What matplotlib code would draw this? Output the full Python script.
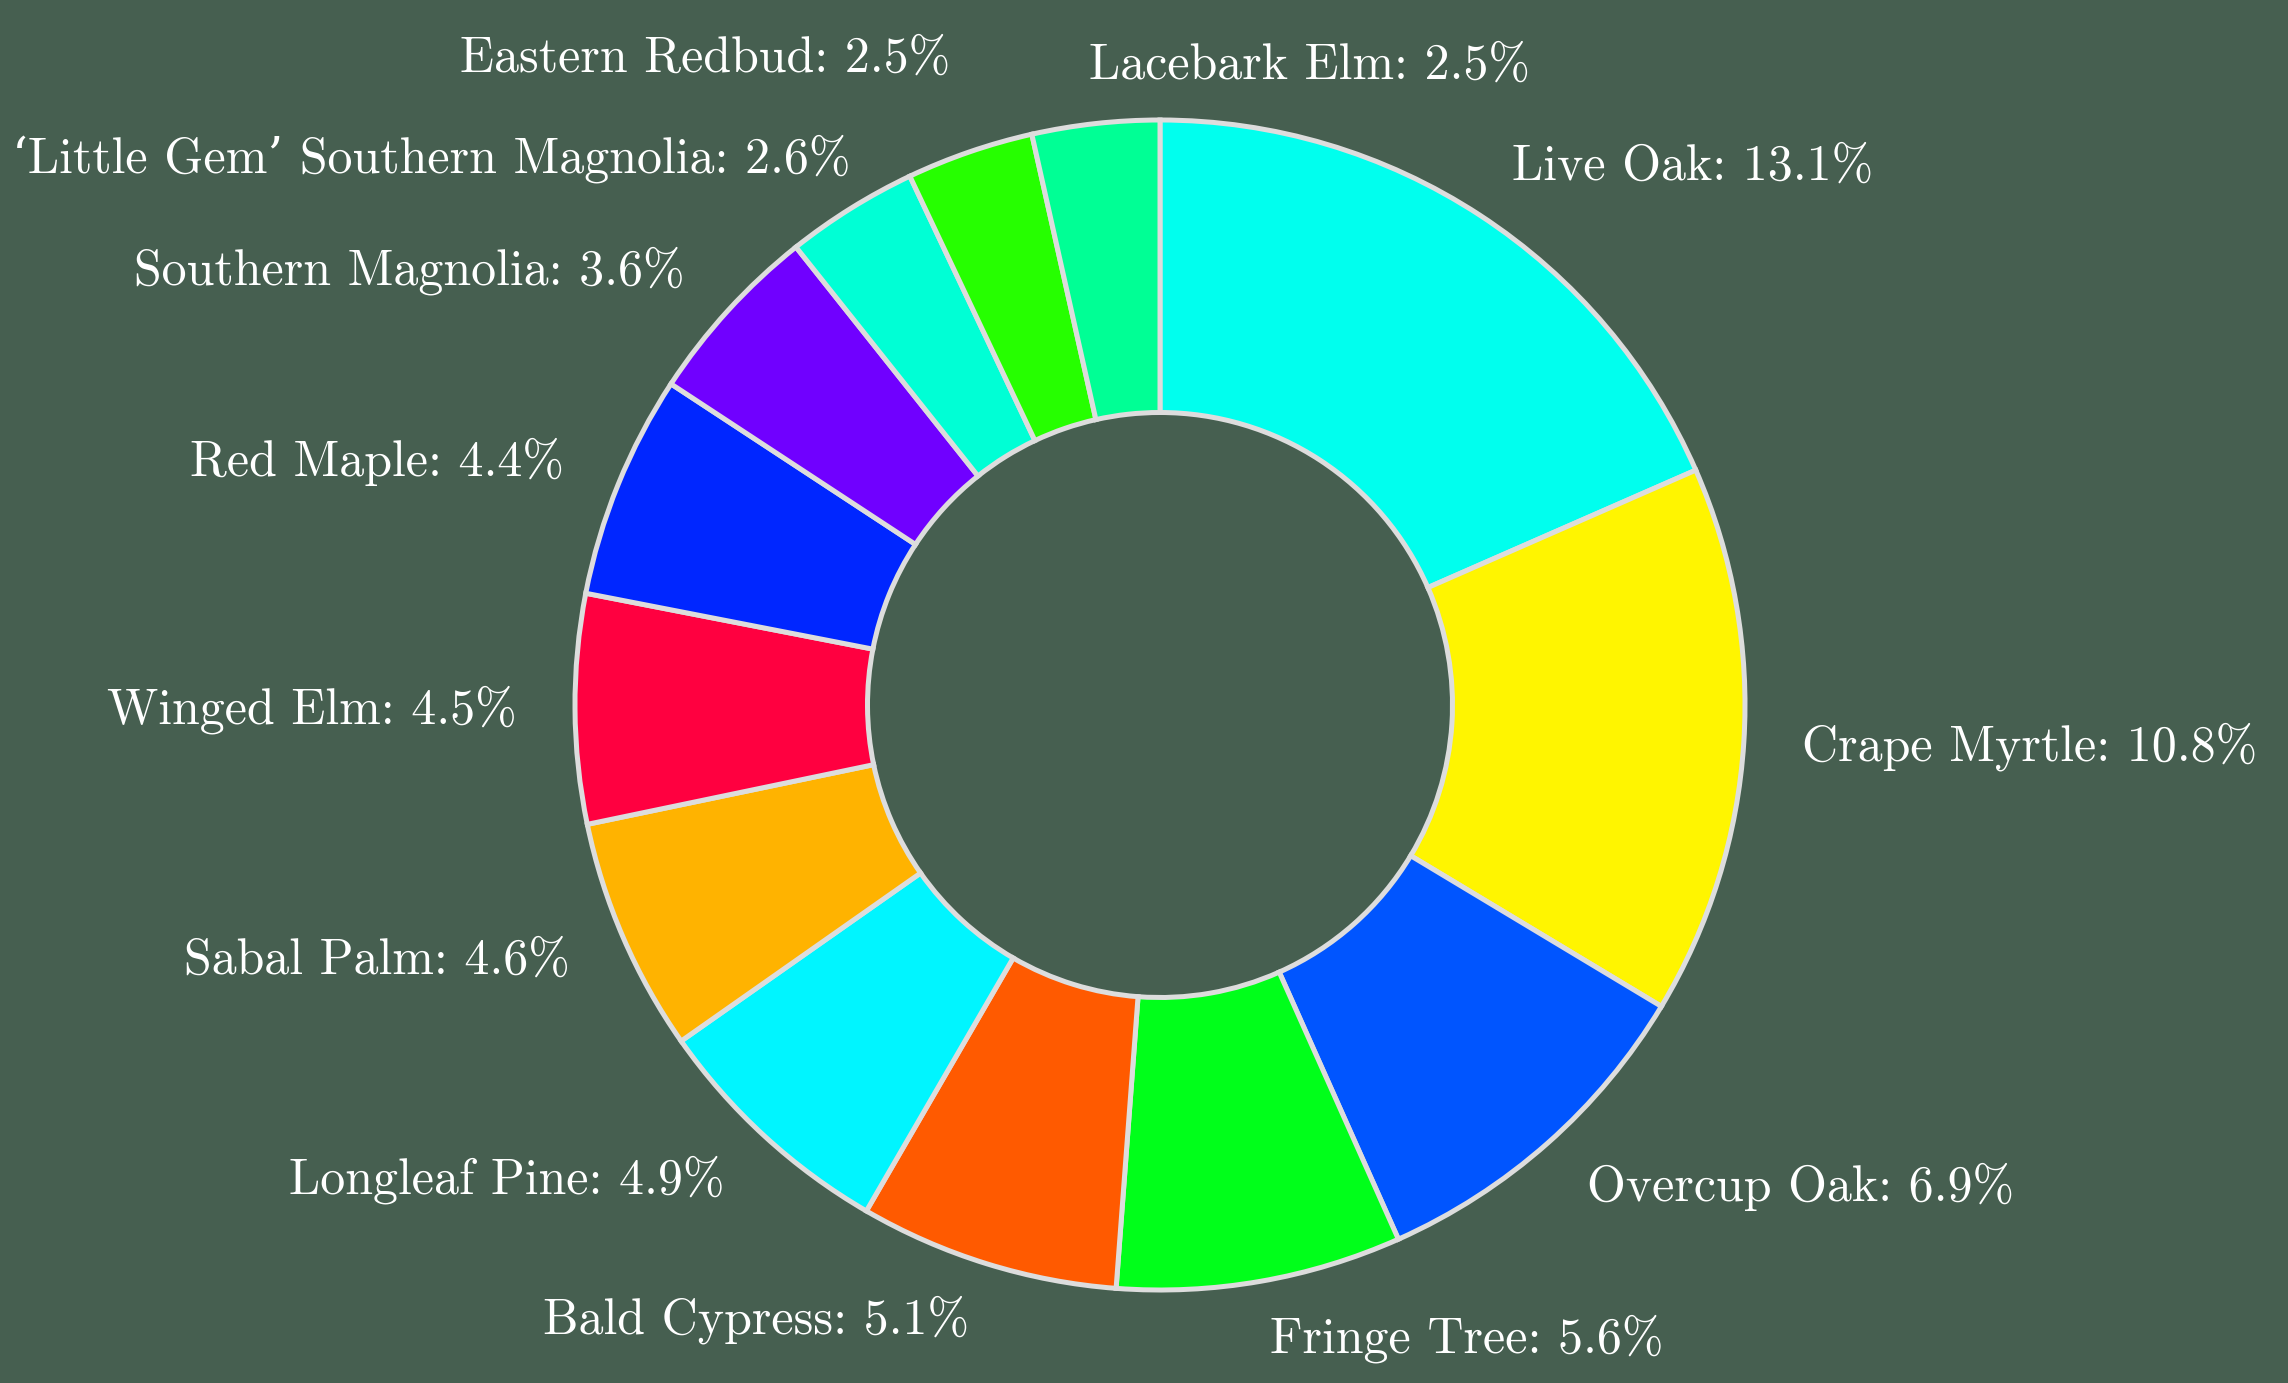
import matplotlib
matplotlib.use("Agg")
import matplotlib.pyplot as plt
import numpy as np

species = [
    "Live Oak", "Crape Myrtle", "Overcup Oak", "Fringe Tree", "Bald Cypress",
    "Longleaf Pine", "Sabal Palm", "Winged Elm", "Red Maple",
    "Southern Magnolia", "\u2018Little Gem\u2019 Southern Magnolia",
    "Eastern Redbud", "Lacebark Elm",
]
shares = [13.1, 10.8, 6.9, 5.6, 5.1, 4.9, 4.6, 4.5, 4.4, 3.6, 2.6, 2.5, 2.5]
colors = [
    "#00FFEE", "#FFF500", "#0055FF", "#00FF1A", "#FF5A00",
    "#00F5FF", "#FFB300", "#FF0040", "#0026FF", "#7000FF",
    "#00FFD5", "#26FF00", "#00FF95",
]

bg = "#465F50"
plt.rcParams["font.family"] = ["cmr10", "DejaVu Serif"]
plt.rcParams["axes.unicode_minus"] = False

fig = plt.figure(figsize=(22.88, 13.83), dpi=100, facecolor=bg)
ax = fig.add_axes([0, 0, 1, 1])
ax.set_facecolor(bg)

labels = [f"{s}: {v}%" for s, v in zip(species, shares)]
wedges, texts = ax.pie(
    shares,
    colors=colors,
    startangle=90,
    counterclock=False,
    labels=labels,
    labeldistance=1.1,
    radius=1.0,
    wedgeprops=dict(width=0.5, edgecolor="#DDDDDD", linewidth=3.6),
    textprops=dict(color="white", fontsize=36),
)

# Labels sitting almost straight above the centre read better anchored on the left
for t in texts:
    x, y = t.get_position()
    if abs(x) < 0.15 and y > 0:
        t.set_ha("left")

# Spread crowded right-anchored labels apart vertically (working bottom-up)
min_gap = 0.17
left = sorted((t for t in texts if t.get_ha() == "right"),
              key=lambda t: t.get_position()[1])
for lower, upper in zip(left[:-1], left[1:]):
    lx, ly = lower.get_position()
    ux, uy = upper.get_position()
    if uy - ly < min_gap:
        upper.set_position((ux, ly + min_gap))

# Centre the ring at a fixed spot in the canvas (radius 1 -> ~585 px)
px = 585.0
cx, cy = 1160.0, 1383 - 705.0
ax.set_xlim(-cx / px, (2288 - cx) / px)
ax.set_ylim(-cy / px, (1383 - cy) / px)
ax.set_aspect("equal")
ax.axis("off")

# Keep long labels inside the canvas
fig.canvas.draw()
renderer = fig.canvas.get_renderer()
margin_px = 12
for t in texts:
    bb = t.get_window_extent(renderer)
    if bb.x0 < margin_px:
        x, y = t.get_position()
        t.set_position((x + (margin_px - bb.x0) / px, y))

fig.savefig("out.png", dpi=100, facecolor=bg)
